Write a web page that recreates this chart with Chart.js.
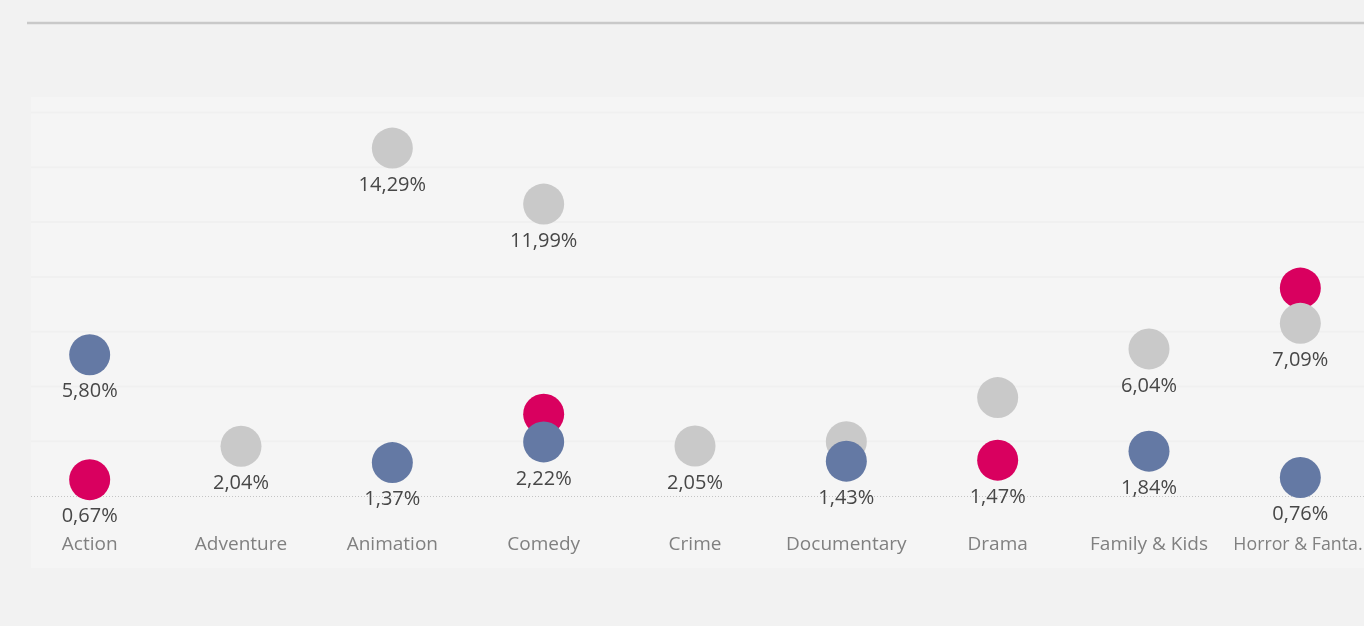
<!DOCTYPE html>
<html lang="it">
<head>
<meta charset="UTF-8">
<title>Generi</title>
<style>
  html, body {
    margin: 0;
    padding: 0;
    background-color: #f2f2f2;
    overflow: hidden;
  }
  #wrap {
    position: relative;
    width: 1380px;
    height: 626px;
  }
</style>
<script src="https://cdn.jsdelivr.net/npm/chart.js"></script>
</head>
<body>
<div id="wrap"><canvas id="genreChart"></canvas></div>
<script>
  // genres on the x axis
  const genres = ['Action', 'Adventure', 'Animation', 'Comedy', 'Crime', 'Documentary', 'Drama', 'Family & Kids', 'Horror & Fanta..'];

  // share per genre (%), one array per group
  const greyValues = [null, 2.04, 14.29, 11.99, 2.05, 2.23, 4.04, 6.04, 7.09];
  const pinkValues = [0.67, null, null, 3.36, null, null, 1.47, null, 8.54];
  const blueValues = [5.80, null, 1.37, 2.22, null, 1.43, null, 1.84, 0.76];

  // which points carry a value label (Tableau hides the overlapping ones)
  const greyShown = [false, true, true, true, true, false, false, true, true];
  const pinkShown = [true, false, false, false, false, false, true, false, false];
  const blueShown = [true, false, true, true, false, true, false, true, true];

  const yMin = -2.96;
  const yMax = 16.39;

  function fmt(v) {
    return v.toFixed(2).replace('.', ',') + '%';
  }

  const decor = {
    id: 'decor',
    beforeDraw(chart) {
      const ctx = chart.ctx;
      const area = chart.chartArea;
      const y = chart.scales.y;
      ctx.save();
      // header rule
      ctx.strokeStyle = '#c9c9c9';
      ctx.lineWidth = 2.5;
      ctx.beginPath();
      ctx.moveTo(27, 23);
      ctx.lineTo(chart.width, 23);
      ctx.stroke();
      // lighter pane behind the marks
      ctx.fillStyle = '#f5f5f5';
      ctx.fillRect(31, area.top, chart.width - 31, area.bottom - area.top);
      // faint bands
      ctx.strokeStyle = 'rgba(0,0,0,0.018)';
      ctx.lineWidth = 2;
      for (let v = 2.25; v < yMax; v += 2.25) {
        const py = y.getPixelForValue(v);
        ctx.beginPath();
        ctx.moveTo(31, py);
        ctx.lineTo(chart.width, py);
        ctx.stroke();
      }
      // dotted zero line
      const zy = Math.round(y.getPixelForValue(0)) + 0.5;
      ctx.strokeStyle = '#c4c4c4';
      ctx.lineWidth = 1;
      ctx.setLineDash([1, 2]);
      ctx.beginPath();
      ctx.moveTo(31, zy);
      ctx.lineTo(chart.width, zy);
      ctx.stroke();
      ctx.restore();
    },
    afterDatasetsDraw(chart) {
      const ctx = chart.ctx;
      const x = chart.scales.x;
      const y = chart.scales.y;
      ctx.save();
      ctx.textAlign = 'center';
      ctx.textBaseline = 'middle';
      // value labels under the dots
      ctx.font = '20px "Open Sans", sans-serif';
      ctx.fillStyle = '#474747';
      const sets = [[greyValues, greyShown], [pinkValues, pinkShown], [blueValues, blueShown]];
      sets.forEach(([vals, shown]) => {
        vals.forEach((v, i) => {
          if (v === null || !shown[i]) return;
          ctx.fillText(fmt(v), x.getPixelForValue(i), y.getPixelForValue(v) + 37);
        });
      });
      // category names, squeezed to the column width
      ctx.font = '19px "Open Sans", sans-serif';
      ctx.fillStyle = '#808080';
      genres.forEach((g, i) => {
        ctx.fillText(g, x.getPixelForValue(i), y.getPixelForValue(-2.01), 134);
      });
      ctx.restore();
    }
  };

  const ctx = document.getElementById('genreChart').getContext('2d');
  new Chart(ctx, {
    type: 'line',
    data: {
      labels: genres,
      datasets: [
        {
          label: 'Blu',
          data: blueValues,
          backgroundColor: '#6479a4',
          order: 0
        },
        {
          label: 'Grigio',
          data: greyValues,
          backgroundColor: '#c9c9c9',
          order: 1
        },
        {
          label: 'Rosa',
          data: pinkValues,
          backgroundColor: '#d9005f',
          order: 2
        }
      ]
    },
    options: {
      responsive: true,
      maintainAspectRatio: false,
      animation: false,
      showLine: false,
      layout: {
        autoPadding: false,
        padding: { left: 14, right: 4, top: 97, bottom: 58 }
      },
      elements: {
        point: { radius: 20.5, hoverRadius: 20.5, borderWidth: 0 }
      },
      scales: {
        x: {
          type: 'category',
          offset: true,
          display: false
        },
        y: {
          min: yMin,
          max: yMax,
          display: false
        }
      },
      plugins: {
        legend: { display: false },
        tooltip: { enabled: false }
      }
    },
    plugins: [decor]
  });
</script>
</body>
</html>
